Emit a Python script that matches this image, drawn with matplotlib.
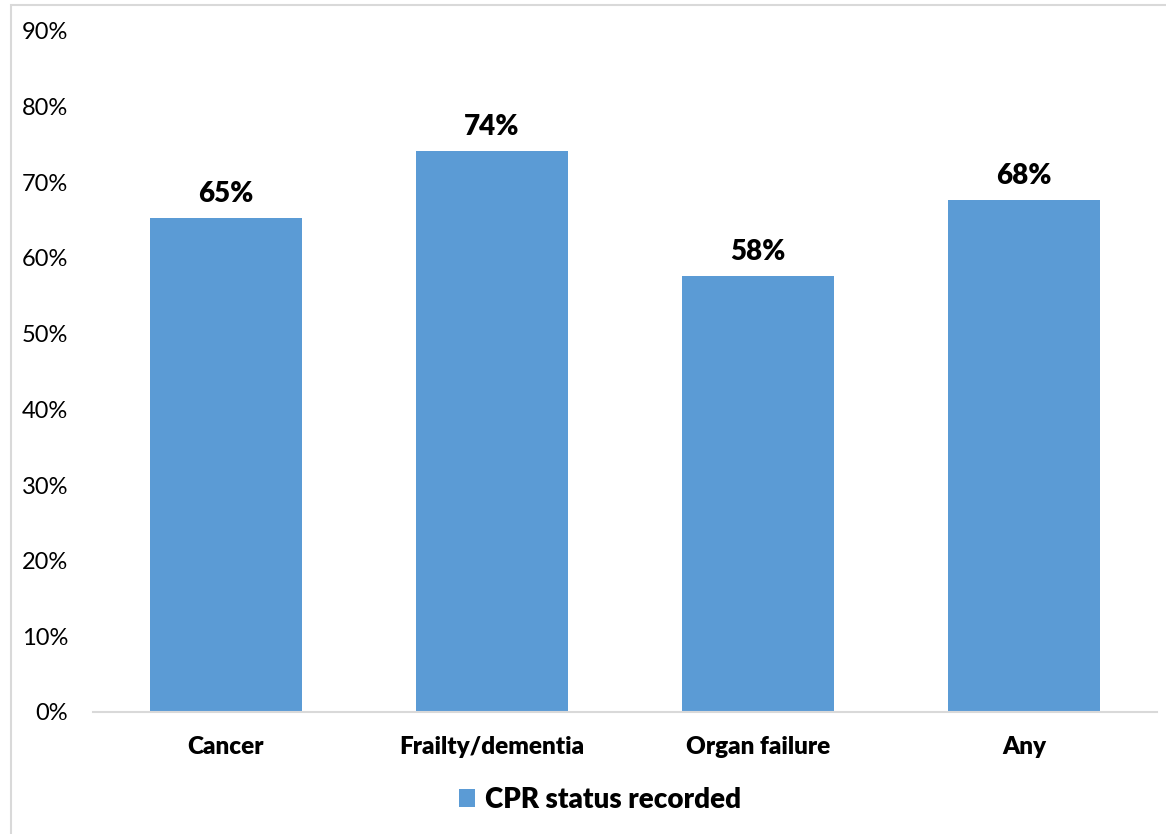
import matplotlib
matplotlib.use("Agg")
import matplotlib.pyplot as plt
from matplotlib.patches import Rectangle
from matplotlib.ticker import FuncFormatter, MultipleLocator

categories = ["Cancer", "Frailty/dementia", "Organ failure", "Any"]
cpr_recorded = [65.3, 74.1, 57.6, 67.7]
series_name = "CPR status recorded"

plt.rcParams["font.family"] = ["Lato", "DejaVu Sans"]

bar_color = "#5B9BD5"
grid_gray = "#D9D9D9"

fig = plt.figure(figsize=(11.66, 8.34), dpi=100)
fig.patch.set_facecolor("white")

# light outer frame of the chart area
fig.patches.append(Rectangle((11 / 1166, -0.1), 1.2, 1 - 5 / 834 + 0.1,
                             transform=fig.transFigure, fill=False,
                             edgecolor=grid_gray, linewidth=1.5))

ax = fig.add_axes([93 / 1166, 1 - 712 / 834, (1157 - 93) / 1166, (712 - 31) / 834])
x = range(len(categories))
bars = ax.bar(x, cpr_recorded, width=0.57, color=bar_color, label=series_name, zorder=2)

for rect, v in zip(bars, cpr_recorded):
    ax.annotate(f"{round(v):.0f}%", (rect.get_x() + rect.get_width() / 2, v),
                xytext=(0, 8), textcoords="offset points",
                ha="center", va="bottom", fontsize=20, fontweight="heavy")

ax.set_xlim(-0.5, len(categories) - 0.5)
ax.set_ylim(0, 90)
ax.yaxis.set_major_locator(MultipleLocator(10))
ax.yaxis.set_major_formatter(FuncFormatter(lambda v, _: f"{v:.0f}%"))
ax.set_xticks(list(x))
ax.set_xticklabels(categories, fontsize=17.5, fontweight="heavy")
ax.tick_params(axis="y", length=0, pad=18, labelsize=17)
ax.tick_params(axis="x", length=0, pad=17)

for side in ("top", "right", "left"):
    ax.spines[side].set_visible(False)
ax.spines["bottom"].set_color(grid_gray)
ax.spines["bottom"].set_linewidth(1.5)

leg = fig.legend(loc="center", bbox_to_anchor=(600 / 1166, 1 - 800 / 834), frameon=False,
                 prop={"size": 20, "weight": "heavy"}, handlelength=0.6,
                 handleheight=0.6, handletextpad=0.35)

fig.savefig("out.png", dpi=100, facecolor="white")
